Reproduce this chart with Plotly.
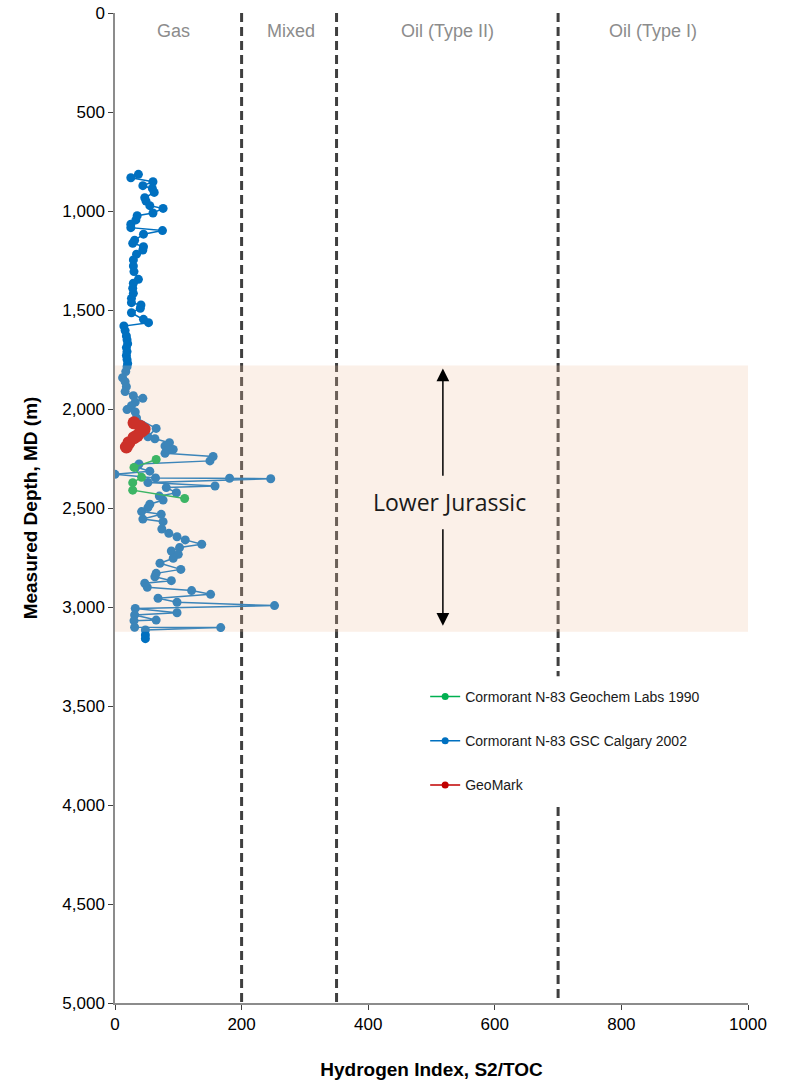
import plotly.graph_objects as go

# Cormorant N-83 GSC Calgary 2002: hydrogen index vs measured depth (m)
gsc_depth = [815, 832, 852, 872, 886, 906, 933, 950, 973, 987, 1010, 1024, 1045, 1067, 1084,
             1099, 1117, 1148, 1163, 1180, 1197, 1218, 1247, 1278, 1306, 1345, 1365, 1390, 1416,
             1441, 1463, 1475, 1491, 1514, 1547, 1564, 1581, 1604, 1631, 1650, 1670, 1690, 1710,
             1730, 1750, 1770, 1786, 1811, 1842, 1862, 1887, 1912, 1933, 1946, 1965, 1983, 2003,
             2015, 2045, 2098, 2140, 2150, 2170, 2187, 2204, 2206, 2224, 2240, 2262, 2278, 2293,
             2314, 2330, 2348, 2350, 2352, 2371, 2389, 2397, 2423, 2440, 2460, 2481, 2498, 2518,
             2532, 2556, 2569, 2606, 2628, 2645, 2661, 2683, 2700, 2717, 2734, 2754, 2779, 2810,
             2830, 2847, 2867, 2880, 2900, 2917, 2936, 2956, 2976, 2993, 3007, 3029, 3040, 3066,
             3069, 3102, 3104, 3116, 3141, 3160]
gsc_hi = [37, 25, 60, 44, 59, 62, 47, 49, 55, 76, 60, 35, 33, 25, 25,
          75, 45, 31, 28, 45, 44, 34, 29, 29, 30, 37, 29, 28, 29,
          26, 26, 41, 40, 26, 45, 53, 14, 16, 18, 19, 20, 18, 19,
          18, 19, 20, 19, 17, 12, 16, 18, 16, 29, 44, 32, 26, 19,
          32, 34, 65, 52, 63, 86, 79, 92, 85, 79, 155, 150, 38, 33,
          55, 0, 64, 181, 246, 52, 158, 81, 97, 70, 76, 55, 52, 42,
          73, 44, 76, 74, 85, 98, 111, 137, 102, 89, 100, 92, 71, 104,
          65, 63, 89, 47, 51, 121, 151, 68, 98, 252, 32, 98, 31, 65,
          30, 31, 167, 48, 48, 48]

# Cormorant N-83 Geochem Labs 1990
geochem_depth = [2255, 2295, 2345, 2372, 2410, 2452]
geochem_hi = [65, 30, 42, 28, 28, 110]

# GeoMark
geomark_depth = [2070, 2088, 2102, 2112, 2135, 2145, 2170, 2192]
geomark_hi = [30, 40, 46, 42, 35, 30, 22, 18]

# Kerogen-type boundaries and their zone labels
boundary_hi = [200, 350, 700]
zone_names = ["Gas", "Mixed", "Oil (Type II)", "Oil (Type I)"]
zone_centers = [92, 278, 526, 850]

# Lower Jurassic interval
jurassic_top = 1780
jurassic_base = 3125

BLUE = "#0070C0"
GREEN = "#00B050"
RED = "#C00000"
FONT = "Liberation Sans, Arial, sans-serif"

fig = go.Figure()

fig.add_trace(go.Scatter(x=gsc_hi, y=gsc_depth, mode="lines+markers",
                         line=dict(color=BLUE, width=1.5),
                         marker=dict(color=BLUE, size=9), showlegend=False))
fig.add_trace(go.Scatter(x=geochem_hi, y=geochem_depth, mode="lines+markers",
                         line=dict(color=GREEN, width=1.5),
                         marker=dict(color=GREEN, size=9), showlegend=False))
fig.add_trace(go.Scatter(x=geomark_hi, y=geomark_depth, mode="lines+markers",
                         line=dict(color=RED, width=1.5),
                         marker=dict(color=RED, size=13), showlegend=False))

# legend entries with small symbols
legend_items = [("Cormorant N-83 Geochem Labs 1990", GREEN),
                ("Cormorant N-83 GSC Calgary 2002", BLUE),
                ("GeoMark", RED)]
for i, (name, col) in enumerate(legend_items):
    fig.add_trace(go.Scatter(x=[None], y=[None], mode="lines+markers", name=name,
                             legendgroup=name, legendrank=i + 1,
                             line=dict(color=col, width=1.5),
                             marker=dict(color=col, size=7)))

shapes = []
for bx in boundary_hi:
    segments = [(0, 5000)] if bx < 700 else [(0, 3350), (4010, 5000)]
    for y0, y1 in segments:
        shapes.append(dict(type="line", xref="x", yref="y", x0=bx, x1=bx, y0=y0, y1=y1,
                           layer="below", line=dict(color="#3F3F3F", width=3, dash="9px,5px")))
shapes.append(dict(type="rect", xref="x", yref="y", x0=0, x1=1000,
                   y0=jurassic_top, y1=jurassic_base, layer="above",
                   fillcolor="rgb(240,195,165)", opacity=0.25, line=dict(width=0)))

annotations = []
for name, cx in zip(zone_names, zone_centers):
    annotations.append(dict(x=cx, y=90, xref="x", yref="y", text=name, showarrow=False,
                            font=dict(family=FONT, size=18, color="#8C8C8C")))
annotations.append(dict(x=529, y=2470, xref="x", yref="y", text="Lower Jurassic",
                        showarrow=False, font=dict(family="Open Sans, sans-serif", size=23,
                                                   color="#1A1A1A")))
for tip, tail in [(1795, 2345), (3095, 2600)]:
    annotations.append(dict(x=518, y=tip, ax=518, ay=tail, xref="x", yref="y",
                            axref="x", ayref="y", text="", showarrow=True,
                            arrowhead=2, arrowsize=1.7, arrowwidth=1.5, arrowcolor="#000000"))

fig.update_layout(
    width=785, height=1088,
    margin=dict(l=115, r=37, t=13, b=85, autoexpand=False),
    paper_bgcolor="white", plot_bgcolor="white",
    font=dict(family=FONT, color="#000000"),
    shapes=shapes, annotations=annotations,
    legend=dict(x=0.49, y=0.3253, xanchor="left", yanchor="top",
                traceorder="grouped", tracegroupgap=23,
                font=dict(family=FONT, size=14, color="#1A1A1A"),
                bgcolor="rgba(0,0,0,0)"),
)
fig.update_xaxes(range=[0, 1000], dtick=200, showgrid=False, zeroline=False,
                 automargin=False,
                 showline=True, linecolor="#8C8C8C", linewidth=1.5,
                 ticks="outside", ticklen=5, tickcolor="#404040",
                 tickfont=dict(family=FONT, size=17, color="#000000"),
                 title=dict(text="<b>Hydrogen Index, S2/TOC</b>", standoff=30,
                            font=dict(family=FONT, size=19, color="#000000")))
fig.update_yaxes(range=[5000, 0], tickvals=list(range(0, 5001, 500)), tickformat=",",
                 showgrid=False, zeroline=False, automargin=False,
                 showline=True, linecolor="#8C8C8C", linewidth=1.5,
                 ticks="outside", ticklen=5, tickcolor="#404040",
                 tickfont=dict(family=FONT, size=17, color="#000000"),
                 title=dict(text="<b>Measured Depth, MD (m)</b>", standoff=20,
                            font=dict(family=FONT, size=19, color="#000000")))

fig.write_html("out.html")
